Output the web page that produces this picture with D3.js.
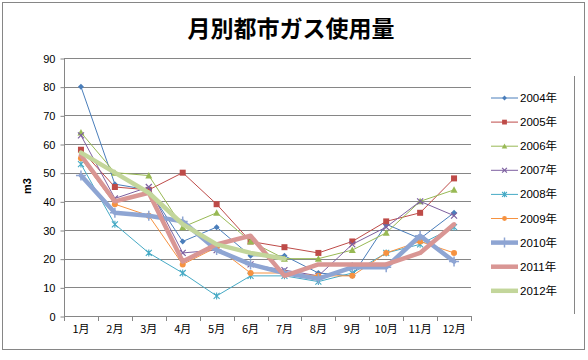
<!DOCTYPE html>
<html><head><meta charset="utf-8">
<script src="https://cdn.jsdelivr.net/npm/d3@7"></script>
<style>body{margin:0;background:#fff}svg{display:block}</style>
</head><body>
<script>
const months = ["1月","2月","3月","4月","5月","6月","7月","8月","9月","10月","11月","12月"];
const yTicks = [0,10,20,30,40,50,60,70,80,90];
const seriesNames = ["2004年","2005年","2006年","2007年","2008年","2009年","2010年","2011年","2012年"];
const y2004 = [80,46,44,26,31,21,21,15,14,32,27,36];
const y2005 = [58,45,44,50,39,26,24,22,26,33,36,48];
const y2006 = [64,50,49,31,36,26,20,20,23,29,40,44];
const y2007 = [63,41,45,22,23,18,16,14,25,31,40,35];
const y2008 = [53,32,22,15,7,14,14,12,15,22,25,31];
const y2009 = [55,39,35,18,24,15,15,14,14,22,26,22];
const y2010 = [49,36,35,33,23,18,15,13,17,17,28,19];
const y2011 = [56,40,43,19,25,28,14,18,18,18,22,32];
const y2012 = [57,50,43,32,25,22,20];
const seriesValues = [y2004,y2005,y2006,y2007,y2008,y2009,y2010,y2011,y2012];

const styles = [
  {color:"#4A7EBB", w:1, marker:"diamond"},
  {color:"#BE4B48", w:1, marker:"square"},
  {color:"#98B954", w:1, marker:"triangle"},
  {color:"#7D60A0", w:1, marker:"x"},
  {color:"#46AAC5", w:1, marker:"asterisk"},
  {color:"#F69240", w:1, marker:"circle"},
  {color:"#8EA5D3", w:4.5, marker:"plus"},
  {color:"#D99694", w:4.5, marker:null},
  {color:"#C3D69B", w:4.5, marker:null}
];

const W=588,H=360;
const svg=d3.select("body").append("svg").attr("width",W).attr("height",H);
const FONT="'Noto Sans CJK JP','Noto Sans',sans-serif";

svg.append("rect").attr("x",2.5).attr("y",2.5).attr("width",582).attr("height",347)
  .attr("fill","#fff").attr("stroke","#868686").attr("stroke-width",1);

svg.append("text").attr("x",291).attr("y",37).attr("text-anchor","middle")
  .attr("font-family",FONT).attr("font-weight","bold").attr("font-size",23).attr("fill","#000")
  .text("月別都市ガス使用量");

const x=d3.scaleBand().domain(months).range([64,471]).padding(0);
const y=d3.scaleLinear().domain([0,90]).range([316,58]);

// gridlines
svg.append("g").selectAll("line").data(yTicks.filter(d=>d>0)).join("line")
  .attr("x1",64).attr("x2",471).attr("y1",d=>Math.round(y(d))+0.5).attr("y2",d=>Math.round(y(d))+0.5)
  .attr("stroke","#868686").attr("stroke-width",1);

// y axis
const ya=svg.append("g").attr("transform","translate(64.5,0.5)")
  .call(d3.axisLeft(y).tickValues(yTicks).tickSize(4).tickPadding(5));
ya.select(".domain").attr("stroke","#868686").attr("d","M0,"+Math.round(y(90))+"V"+Math.round(y(0)));
ya.selectAll(".tick line").attr("stroke","#868686");
ya.selectAll("text").attr("font-family","'Liberation Sans','Noto Sans',sans-serif").attr("font-size",11).attr("fill","#000");

// x axis
const xa=svg.append("g").attr("transform","translate(0,"+(Math.round(y(0))+0.5)+")")
  .call(d3.axisBottom(x).tickSize(0).tickPadding(9));
xa.select(".domain").attr("stroke","#868686").attr("d","M64,0H471");
xa.selectAll("text").attr("font-family",FONT).attr("font-size",11).attr("fill","#000");
svg.append("g").selectAll("line").data(d3.range(months.length+1)).join("line")
  .attr("x1",i=>Math.round(64+x.bandwidth()*i)+0.5).attr("x2",i=>Math.round(64+x.bandwidth()*i)+0.5)
  .attr("y1",Math.round(y(0))).attr("y2",Math.round(y(0))+5).attr("stroke","#868686");

// y title
svg.append("text").attr("transform","translate(31,186) rotate(-90)").attr("text-anchor","middle")
  .attr("font-family","'Liberation Sans','Noto Sans',sans-serif").attr("font-weight","bold").attr("font-size",11).text("m3");

function drawMarker(g,type,cx,cy,color,scale){
  const s=scale||1;
  if(type==="diamond"){g.append("path").attr("d",`M${cx},${cy-3*s}L${cx+3*s},${cy}L${cx},${cy+3*s}L${cx-3*s},${cy}Z`).attr("fill",color);}
  else if(type==="square"){g.append("rect").attr("x",cx-3*s).attr("y",cy-3*s).attr("width",6*s).attr("height",6*s).attr("fill",color);}
  else if(type==="triangle"){g.append("path").attr("d",`M${cx},${cy-3.5*s}L${cx+3.5*s},${cy+3*s}L${cx-3.5*s},${cy+3*s}Z`).attr("fill",color);}
  else if(type==="x"){g.append("path").attr("d",`M${cx-3*s},${cy-3*s}L${cx+3*s},${cy+3*s}M${cx+3*s},${cy-3*s}L${cx-3*s},${cy+3*s}`).attr("stroke",color).attr("stroke-width",1.2);}
  else if(type==="asterisk"){g.append("path").attr("d",`M${cx-3*s},${cy-3*s}L${cx+3*s},${cy+3*s}M${cx+3*s},${cy-3*s}L${cx-3*s},${cy+3*s}M${cx},${cy-3.5*s}V${cy+3.5*s}`).attr("stroke",color).attr("stroke-width",1.1);}
  else if(type==="circle"){g.append("circle").attr("cx",cx).attr("cy",cy).attr("r",3*s).attr("fill",color);}
  else if(type==="plus"){g.append("path").attr("d",`M${cx-5*s},${cy}H${cx+5*s}M${cx},${cy-5*s}V${cy+5*s}`).attr("stroke",color).attr("stroke-width",1.5);}
}

const line=d3.line().x((d,i)=>x(months[i])+x.bandwidth()/2).y(d=>y(d));
seriesValues.forEach((vals,k)=>{
  const st=styles[k];
  const g=svg.append("g");
  g.append("path").datum(vals).attr("d",line).attr("fill","none").attr("stroke",st.color)
    .attr("stroke-width",st.w).attr("stroke-linejoin","round").attr("stroke-linecap","round");
  if(st.marker){vals.forEach((v,i)=>drawMarker(g,st.marker,x(months[i])+x.bandwidth()/2,y(v),st.color));}
});

// legend
svg.append("line").attr("x1",574.5).attr("x2",574.5).attr("y1",76).attr("y2",314).attr("stroke","#868686");
const lg=svg.append("g");
seriesNames.forEach((name,k)=>{
  const st=styles[k];
  const ly=98+k*24.1;
  lg.append("line").attr("x1",491).attr("x2",518).attr("y1",ly).attr("y2",ly).attr("stroke",st.color).attr("stroke-width",st.w);
  if(st.marker) drawMarker(lg,st.marker,504.5,ly,st.color,st.marker==="plus"?1:0.8);
  lg.append("text").attr("x",520).attr("y",ly+4).attr("font-family","'Liberation Sans','Noto Sans CJK JP',sans-serif")
    .attr("font-size",11.5).attr("fill","#000").text(name.replace("年","")).append("tspan").attr("font-family",FONT).text("年");
});
</script>
</body></html>
